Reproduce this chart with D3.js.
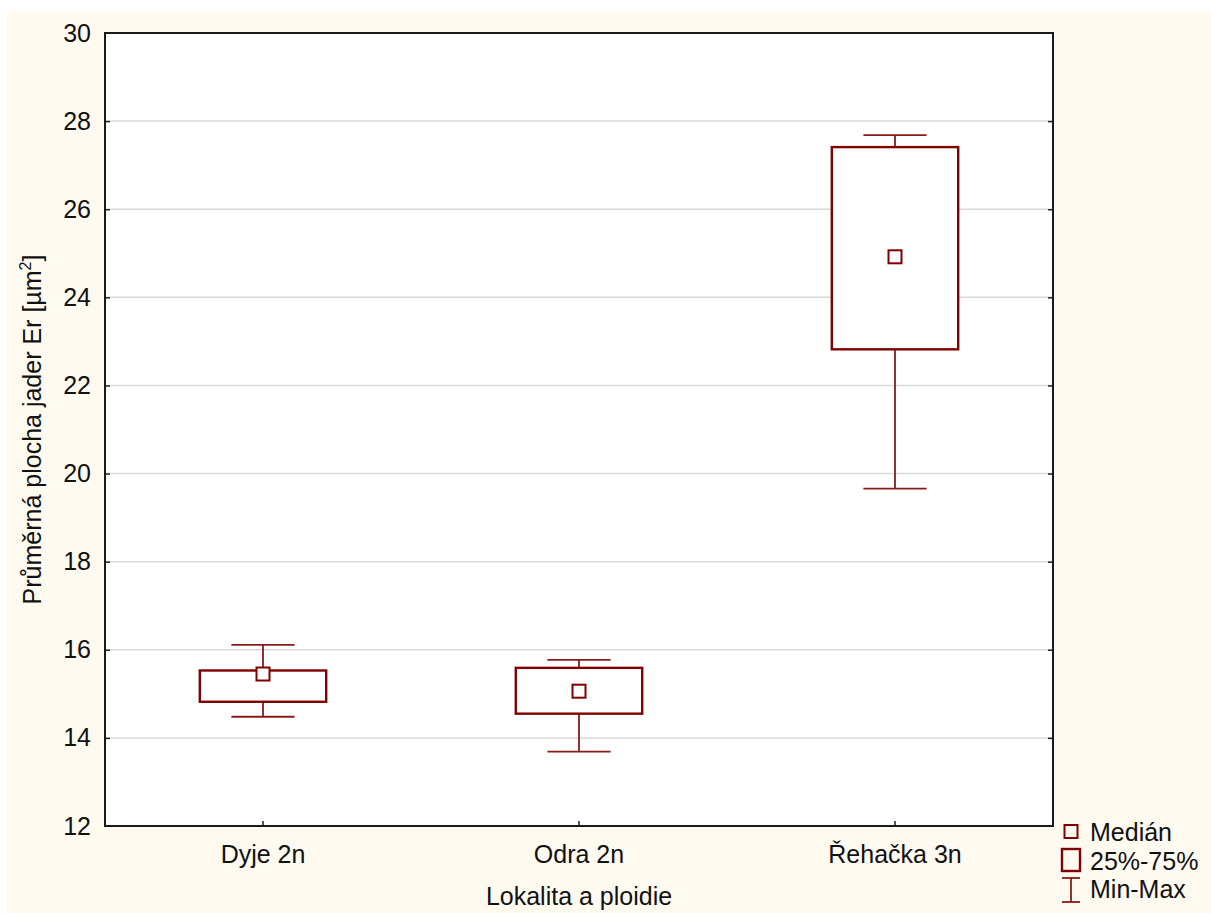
<!DOCTYPE html>
<html>
<head>
<meta charset="utf-8">
<script src="https://cdn.jsdelivr.net/npm/d3@7/dist/d3.min.js"></script>
<style>
  html, body { margin: 0; padding: 0; background: #ffffff; }
  svg { display: block; }
  text { font-family: "Liberation Sans", Arial, sans-serif; fill: #111; }
</style>
</head>
<body>
<svg id="chart" width="1211" height="913"></svg>
<script>
// Box-plot summary per locality (nuclear area, µm²)
const categories = ["Dyje 2n", "Odra 2n", "Řehačka 3n"];
const minVals    = [14.48, 13.69, 19.66];
const q1Vals     = [14.82, 14.55, 22.82];
const medianVals = [15.45, 15.06, 24.92];
const q3Vals     = [15.53, 15.59, 27.41];
const maxVals    = [16.11, 15.77, 27.68];
const yTicks     = [12, 14, 16, 18, 20, 22, 24, 26, 28, 30];
const legendLabels = ["Medián", "25%-75%", "Min-Max"];

const W = 1211, H = 913;
const plot = { left: 105, top: 33, right: 1053, bottom: 826 };
const boxColor = "#800000";
const whiskerColor = "#8b1a1a";
const fontSize = 25;

const svg = d3.select("#chart");

// outer panel
svg.append("rect")
  .attr("x", 7).attr("y", 11)
  .attr("width", W - 7).attr("height", H - 11)
  .attr("fill", "#fffaf0");

// plotting area
svg.append("rect")
  .attr("x", plot.left).attr("y", plot.top)
  .attr("width", plot.right - plot.left).attr("height", plot.bottom - plot.top)
  .attr("fill", "#ffffff");

const x = d3.scaleBand().domain(categories).range([plot.left, plot.right]).padding(0);
const y = d3.scaleLinear().domain([12, 30]).range([plot.bottom, plot.top]);

// horizontal grid
svg.append("g")
  .selectAll("line")
  .data(yTicks.filter(v => v > 12 && v < 30))
  .join("line")
  .attr("x1", plot.left).attr("x2", plot.right)
  .attr("y1", d => y(d)).attr("y2", d => y(d))
  .attr("stroke", "#d9d9d9").attr("stroke-width", 1.5);

const rows = categories.map((c, i) => ({
  cat: c, min: minVals[i], q1: q1Vals[i], med: medianVals[i], q3: q3Vals[i], max: maxVals[i]
}));

const bw = x.bandwidth();
const boxW = bw * 0.4;
const capW = bw * 0.2;
const medSize = 13;

const g = svg.append("g");
rows.forEach(d => {
  const cx = x(d.cat) + bw / 2;
  // whisker stems
  g.append("line")
    .attr("x1", cx).attr("x2", cx)
    .attr("y1", y(d.max)).attr("y2", y(d.min))
    .attr("stroke", whiskerColor).attr("stroke-width", 1.8);
  // whisker caps
  [d.min, d.max].forEach(v => {
    g.append("line")
      .attr("x1", cx - capW / 2).attr("x2", cx + capW / 2)
      .attr("y1", y(v)).attr("y2", y(v))
      .attr("stroke", whiskerColor).attr("stroke-width", 1.8);
  });
  // interquartile box
  g.append("rect")
    .attr("x", cx - boxW / 2).attr("y", y(d.q3))
    .attr("width", boxW).attr("height", y(d.q1) - y(d.q3))
    .attr("fill", "#ffffff")
    .attr("stroke", boxColor).attr("stroke-width", 2.4);
  // median marker
  g.append("rect")
    .attr("x", cx - medSize / 2).attr("y", y(d.med) - medSize / 2)
    .attr("width", medSize).attr("height", medSize)
    .attr("fill", "#ffffff")
    .attr("stroke", boxColor).attr("stroke-width", 2);
});

// axes (ticks pointing inward)
const yAxis = svg.append("g")
  .attr("transform", `translate(${plot.left},0)`)
  .call(d3.axisLeft(y).tickValues(yTicks).tickSizeInner(-5).tickSizeOuter(0).tickPadding(14));
const yAxisR = svg.append("g")
  .attr("transform", `translate(${plot.right},0)`)
  .call(d3.axisRight(y).tickValues(yTicks).tickSizeInner(-5).tickSizeOuter(0).tickFormat(""));
const xAxis = svg.append("g")
  .attr("transform", `translate(0,${plot.bottom})`)
  .call(d3.axisBottom(x).tickSizeInner(-5).tickSizeOuter(0).tickPadding(19));

[yAxis, yAxisR, xAxis].forEach(a => {
  a.select(".domain").remove();
  a.selectAll(".tick line").attr("stroke", "#222").attr("stroke-width", 1.5);
  a.selectAll(".tick text")
    .attr("font-family", "Liberation Sans, Arial, sans-serif")
    .attr("font-size", fontSize).attr("fill", "#111");
});
yAxis.selectAll(".tick")
  .filter(d => d === 12 || d === 30)
  .select("line").remove();
yAxisR.selectAll(".tick")
  .filter(d => d === 12 || d === 30)
  .select("line").remove();

// frame
svg.append("rect")
  .attr("x", plot.left).attr("y", plot.top)
  .attr("width", plot.right - plot.left).attr("height", plot.bottom - plot.top)
  .attr("fill", "none").attr("stroke", "#1a1a1a").attr("stroke-width", 2);

// axis titles
svg.append("text")
  .attr("x", (plot.left + plot.right) / 2).attr("y", 905)
  .attr("text-anchor", "middle").attr("font-size", fontSize)
  .text("Lokalita a ploidie");

const yt = svg.append("text")
  .attr("transform", `translate(41,${(plot.top + plot.bottom) / 2}) rotate(-90)`)
  .attr("text-anchor", "middle").attr("font-size", fontSize);
yt.append("tspan").text("Průměrná plocha jader Er [µm");
yt.append("tspan").attr("font-size", 16).attr("dy", -10).text("2");
yt.append("tspan").attr("dy", 10).text("]");

// legend
const lg = svg.append("g");
const lx = 1071;
lg.append("rect")
  .attr("x", lx - 6.5).attr("y", 825).attr("width", 13).attr("height", 13)
  .attr("fill", "none").attr("stroke", boxColor).attr("stroke-width", 2);
lg.append("rect")
  .attr("x", lx - 9).attr("y", 849).attr("width", 18).attr("height", 22)
  .attr("fill", "none").attr("stroke", boxColor).attr("stroke-width", 2.4);
lg.append("line").attr("x1", lx).attr("x2", lx).attr("y1", 878).attr("y2", 902)
  .attr("stroke", whiskerColor).attr("stroke-width", 1.8);
[878, 902].forEach(v => lg.append("line")
  .attr("x1", lx - 9).attr("x2", lx + 9).attr("y1", v).attr("y2", v)
  .attr("stroke", whiskerColor).attr("stroke-width", 1.8));
lg.selectAll("text.lab")
  .data(legendLabels)
  .join("text")
  .attr("class", "lab")
  .attr("x", 1090)
  .attr("y", (d, i) => [841, 870, 898][i])
  .attr("font-size", fontSize)
  .text(d => d);
</script>
</body>
</html>
